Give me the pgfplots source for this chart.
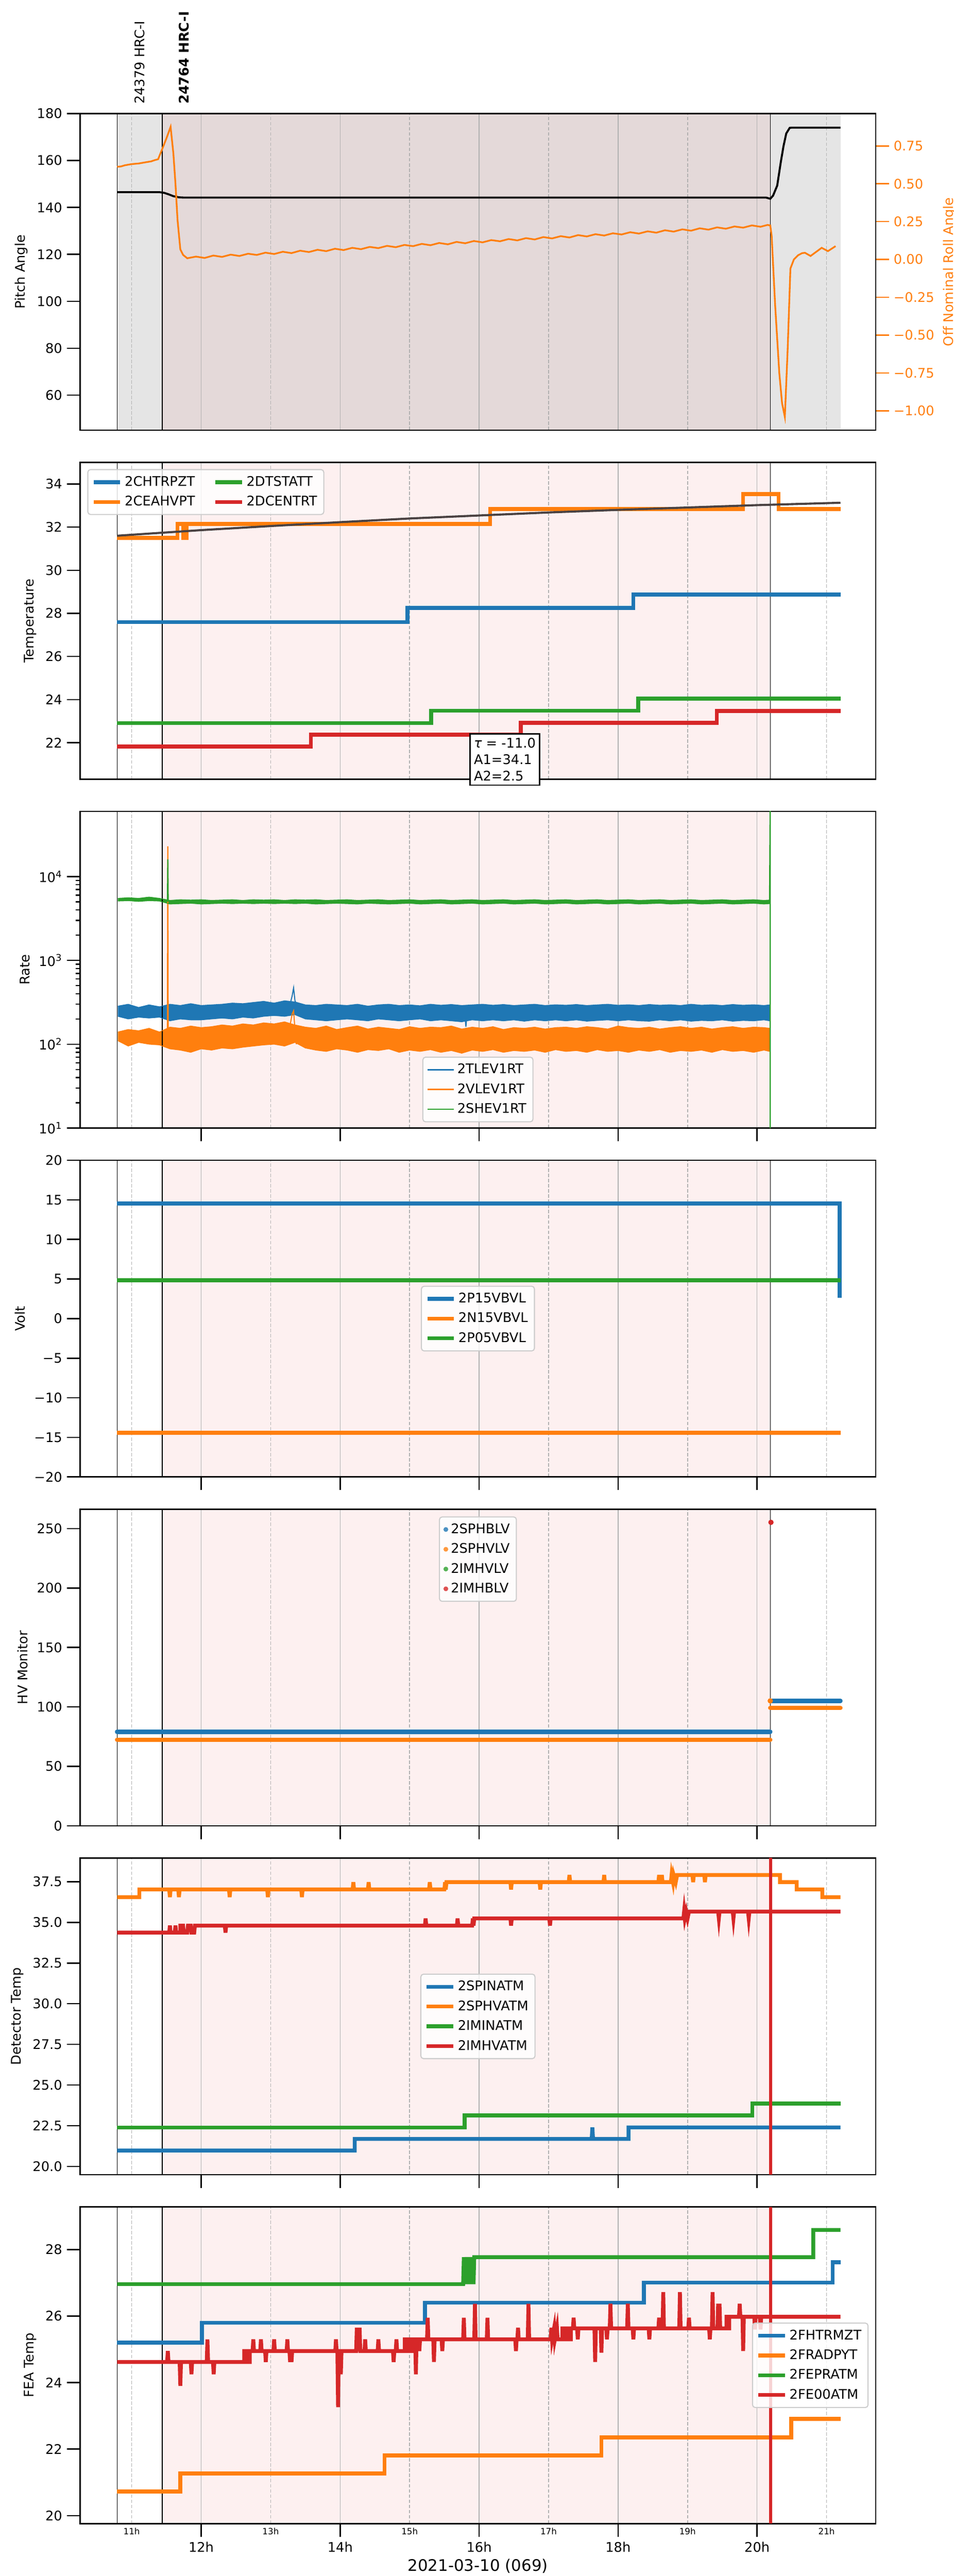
\documentclass[border=0pt]{standalone}
\usepackage{fontspec}
\setmainfont{DejaVu Sans}
\usepackage{pgfplots}
\pgfplotsset{compat=1.18}
\usepackage{pgfplotstable}
\usepgfplotslibrary{fillbetween}
\usetikzlibrary{calc}

\definecolor{mplblue}{HTML}{1F77B4}
\definecolor{mplorange}{HTML}{FF7F0E}
\definecolor{mplgreen}{HTML}{2CA02C}
\definecolor{mplred}{HTML}{D62728}
\definecolor{shadegrey}{HTML}{E5E5E5}
\definecolor{shadeobs}{HTML}{E4D9D9}
\definecolor{shadepink}{HTML}{FDF0F0}
\definecolor{gridgrey}{HTML}{B0B0B0}
\definecolor{legedge}{HTML}{CCCCCC}
\definecolor{fitgrey}{HTML}{4A4242}

\tikzset{stepln/.style={line width=2.9pt}}

\pgfplotsset{
  panel/.style={
    scale only axis, width=600.5pt, height=239pt, anchor=north west,
    xmin=10.258, xmax=21.708,
    xtick={12,14,16,18,20}, xticklabels={},
    extra x ticks={11,13,15,17,19,21}, extra x tick labels={},
    extra x tick style={major tick length=0pt, grid=major,
      major grid style={line width=0.6pt, draw=gridgrey, dash pattern=on 2.6pt off 1.3pt}},
    xmajorgrids=true,
    major grid style={line width=0.6pt, draw=gridgrey},
    tick align=outside, tick pos=left,
    major tick length=10pt, minor tick length=3.5pt,
    tick style={black, line width=1pt},
    axis line style={line width=1pt},
    ticklabel style={font=\fontsize{10}{12}\selectfont},
    label style={font=\fontsize{10}{12}\selectfont},
    set layers,
    legend cell align=left,
    legend style={draw=legedge, rounded corners=2pt, fill=white, fill opacity=0.8,
      text opacity=1, font=\fontsize{10}{12}\selectfont, line width=0.8pt,
      row sep=2pt, inner ysep=3pt},
    legend image code/.code={\draw (0pt,0pt) -- (20pt,0pt);},
  },
  bgfill/.style={draw=none, fill=#1, on layer=axis background, forget plot, mark=none},
  obsline/.style={black, line width=0.6pt, forget plot, mark=none},
}

\pgfplotstableread{
x bh bl oh ol gh gl
10.80 285 215 140 110 5500 5100
10.95 300 200 150 95 5600 5150
11.10 275 210 145 105 5500 5050
11.25 295 205 155 100 5700 5150
11.40 280 210 140 98 5500 5100
11.55 300 190 160 88 5200 4700
11.70 290 200 155 85 5300 4750
11.85 305 195 165 80 5250 4800
12.00 290 195 158 88 5300 4700
12.15 295 200 162 85 5200 4750
12.30 300 205 170 90 5250 4800
12.45 310 200 165 88 5300 4750
12.60 305 210 175 92 5200 4800
12.75 315 205 170 95 5300 4750
12.90 325 215 180 98 5250 4800
13.05 310 220 175 100 5300 4750
13.20 330 215 185 95 5200 4800
13.35 320 225 170 105 5300 4750
13.50 295 200 160 90 5250 4800
13.65 290 195 155 85 5300 4700
13.80 300 190 165 82 5200 4750
13.95 295 195 150 88 5250 4800
14.10 290 200 158 85 5300 4750
14.25 300 195 165 80 5200 4700
14.40 285 190 152 86 5250 4800
14.55 295 200 160 84 5300 4750
14.70 300 195 155 88 5200 4700
14.85 290 190 150 80 5250 4750
15.00 295 195 162 85 5300 4800
15.15 288 200 155 82 5200 4700
15.30 300 190 160 86 5250 4750
15.45 292 195 158 80 5300 4800
15.60 298 190 165 84 5200 4700
15.75 290 185 152 78 5250 4750
15.90 295 195 160 85 5300 4800
16.05 300 190 155 82 5200 4700
16.20 292 195 162 86 5250 4750
16.35 298 190 150 80 5300 4800
16.50 290 195 158 84 5200 4700
16.65 295 188 155 82 5250 4750
16.80 300 195 160 85 5300 4800
16.95 290 190 152 80 5200 4700
17.10 296 195 158 86 5250 4750
17.25 292 190 160 82 5300 4800
17.40 298 195 155 84 5200 4700
17.55 290 188 162 80 5250 4750
17.70 295 192 158 86 5300 4800
17.85 300 195 152 82 5200 4700
18.00 292 190 165 84 5250 4750
18.15 296 195 158 80 5300 4800
18.30 290 190 155 85 5200 4700
18.45 298 188 160 82 5250 4750
18.60 292 195 152 86 5300 4800
18.75 296 190 158 80 5200 4700
18.90 290 195 162 84 5250 4750
19.05 300 188 155 82 5300 4800
19.20 292 192 160 85 5200 4700
19.35 296 190 152 80 5250 4750
19.50 290 195 158 86 5300 4800
19.65 298 188 162 82 5200 4700
19.80 292 192 155 84 5250 4750
19.95 296 190 160 80 5300 4800
20.10 290 195 158 85 5200 4700
20.18 295 190 155 82 5250 4750
}\ratetab

\begin{document}
\begin{tikzpicture}

% ---------------- Panel 1: Pitch / Roll
\begin{axis}[panel, at={(60.48pt,1858.3pt)}, xtick style={draw=none},
  ymin=45.1, ymax=180, ytick={60,80,100,120,140,160,180},
  yticklabels={60,80,100,120,140,160,180}, ylabel={Pitch Angle}]
\addplot[bgfill=shadegrey] coordinates {(10.79,45.1)(11.44,45.1)(11.44,180)(10.79,180)};
\addplot[bgfill=shadeobs] coordinates {(11.44,45.1)(20.19,45.1)(20.19,180)(11.44,180)};
\addplot[bgfill=shadegrey] coordinates {(20.19,45.1)(21.2,45.1)(21.2,180)(20.19,180)};
\addplot[obsline] coordinates {(10.79,45.1)(10.79,180)};
\addplot[obsline] coordinates {(11.44,45.1)(11.44,180)};
\addplot[obsline] coordinates {(20.19,45.1)(20.19,180)};
\addplot[black, line width=1.5pt, mark=none] coordinates {
(10.79,146.5)(11.40,146.5)(11.47,146.2)(11.53,145.6)(11.60,144.8)(11.68,144.3)(11.75,144.2)
(20.13,144.2)(20.19,143.7)(20.23,145.0)(20.29,149.3)(20.34,159.0)(20.38,166.0)(20.42,171.5)
(20.47,173.9)(20.50,174.0)(21.2,174.0)};
\coordinate (lab1) at (axis cs:11.115,180);
\coordinate (lab2) at (axis cs:11.75,180);
\end{axis}
\begin{axis}[scale only axis, width=600.5pt, height=239pt, anchor=north west,
  at={(60.48pt,1858.3pt)}, xmin=10.258, xmax=21.708,
  axis x line=none, axis y line*=right,
  ymin=-1.128, ymax=0.964, ytick={-1,-0.75,-0.5,-0.25,0,0.25,0.5,0.75},
  yticklabels={−1.00,−0.75,−0.50,−0.25,0.00,0.25,0.50,0.75},
  tick align=outside, major tick length=10pt,
  tick style={mplorange, line width=1pt},
  axis line style={line width=1pt},
  yticklabel style={mplorange, font=\fontsize{10}{12}\selectfont},
  ylabel={Off Nominal Roll Angle},
  ylabel style={mplorange, font=\fontsize{10}{12}\selectfont}]
\addplot[mplorange, line width=1.3pt, mark=none] coordinates {
(10.79,0.612)(10.85,0.615)(10.90,0.622)(10.95,0.626)(11.00,0.630)(11.10,0.634)(11.20,0.642)
(11.28,0.648)(11.33,0.656)(11.38,0.662)(11.44,0.73)(11.50,0.80)(11.56,0.876)(11.60,0.70)
(11.63,0.50)(11.66,0.26)(11.70,0.067)(11.74,0.030)(11.80,0.008)
(11.925,0.019)(12.050,0.010)(12.175,0.026)(12.300,0.017)(12.425,0.032)(12.550,0.023)
(12.675,0.038)(12.800,0.030)(12.925,0.045)(13.050,0.036)(13.175,0.051)(13.300,0.042)
(13.425,0.058)(13.550,0.049)(13.675,0.064)(13.800,0.055)(13.925,0.071)(14.050,0.062)
(14.175,0.077)(14.300,0.068)(14.425,0.083)(14.550,0.075)(14.675,0.090)(14.800,0.081)
(14.925,0.096)(15.050,0.088)(15.175,0.103)(15.300,0.094)(15.425,0.109)(15.550,0.100)
(15.675,0.116)(15.800,0.107)(15.925,0.122)(16.050,0.113)(16.175,0.128)(16.300,0.120)
(16.425,0.135)(16.550,0.126)(16.675,0.141)(16.800,0.132)(16.925,0.148)(17.050,0.139)
(17.175,0.154)(17.300,0.145)(17.425,0.161)(17.550,0.152)(17.675,0.167)(17.800,0.158)
(17.925,0.173)(18.050,0.165)(18.175,0.180)(18.300,0.171)(18.425,0.186)(18.550,0.177)
(18.675,0.193)(18.800,0.184)(18.925,0.199)(19.050,0.190)(19.175,0.206)(19.300,0.197)
(19.425,0.212)(19.550,0.203)(19.675,0.218)(19.800,0.210)(19.925,0.225)(20.050,0.216)
(20.150,0.228)(20.19,0.225)(20.21,0.157)(20.26,-0.30)(20.32,-0.75)(20.36,-0.95)(20.40,-1.04)
(20.44,-0.60)(20.48,-0.06)(20.53,0.00)(20.59,0.028)(20.65,0.042)(20.69,0.044)(20.77,0.023)
(20.85,0.050)(20.93,0.077)(21.02,0.055)(21.13,0.088)};
\end{axis}

% ---------------- Panel 2: Temperature
\begin{axis}[panel, at={(60.48pt,1595.0pt)}, xtick style={draw=none},
  ymin=20.31, ymax=35.0, ytick={22,24,26,28,30,32,34},
  yticklabels={22,24,26,28,30,32,34}, ylabel={Temperature},
  legend columns=2, transpose legend,
  legend style={at={(0.009,0.979)}, anchor=north west,
    /tikz/every even column/.append style={column sep=12pt}}]
\addplot[bgfill=shadepink] coordinates {(11.44,20.31)(20.19,20.31)(20.19,35)(11.44,35)};
\addplot[obsline] coordinates {(10.79,20.31)(10.79,35)};
\addplot[obsline] coordinates {(11.44,20.31)(11.44,35)};
\addplot[obsline] coordinates {(20.19,20.31)(20.19,35)};
\addplot[stepln, mplblue, mark=none] coordinates {(10.79,27.6)(14.97,27.6)(14.97,28.25)(18.22,28.25)(18.22,28.87)(21.2,28.87)};
\addlegendentry{2CHTRPZT}
\addplot[stepln, mplorange, mark=none] coordinates {(10.79,31.5)(11.66,31.5)(11.66,32.15)(11.74,32.15)(11.74,31.5)(11.79,31.5)(11.79,32.15)(16.16,32.15)(16.16,32.84)(19.8,32.84)(19.8,33.53)(20.31,33.53)(20.31,32.84)(21.2,32.84)};
\addlegendentry{2CEAHVPT}
\addplot[stepln, mplgreen, mark=none] coordinates {(10.79,22.91)(15.31,22.91)(15.31,23.48)(18.29,23.48)(18.29,24.05)(21.2,24.05)};
\addlegendentry{2DTSTATT}
\addplot[stepln, mplred, mark=none] coordinates {(10.79,21.82)(13.58,21.82)(13.58,22.37)(16.6,22.37)(16.6,22.92)(19.42,22.92)(19.42,23.47)(21.2,23.47)};
\addlegendentry{2DCENTRT}
\addplot[fitgrey, line width=1.6pt, mark=none, forget plot] coordinates {(10.79,31.60)(12,31.86)(13,32.05)(14,32.23)(15,32.40)(16,32.54)(17,32.68)(18,32.80)(19,32.91)(20,33.02)(21.2,33.13)};
\coordinate (ann) at (axis cs:16.37,21.22);
\end{axis}

% ---------------- Panel 3: Rate
\begin{axis}[panel, at={(60.48pt,1331.7pt)}, ymode=log,
  ymin=10, ymax=60000, ytick={10,100,1000,10000},
  yticklabels={10\textsuperscript{1},10\textsuperscript{2},10\textsuperscript{3},10\textsuperscript{4}},
  ylabel={Rate},
  legend style={at={(0.5,0.018)}, anchor=south}]
\addplot[bgfill=shadepink] coordinates {(11.44,10)(20.19,10)(20.19,60000)(11.44,60000)};
\addplot[obsline] coordinates {(10.79,10)(10.79,60000)};
\addplot[obsline] coordinates {(11.44,10)(11.44,60000)};
\addplot[obsline] coordinates {(20.19,10)(20.19,60000)};
\addplot[name path=bh, mplblue, line width=0.5pt, forget plot, mark=none] table[x=x,y=bh]{\ratetab};
\addplot[name path=bl, mplblue, line width=0.5pt, forget plot, mark=none] table[x=x,y=bl]{\ratetab};
\addplot[mplblue, forget plot] fill between[of=bh and bl];
\addplot[mplblue, line width=0.8pt, forget plot, mark=none] coordinates {(13.28,300)(13.31,380)(13.33,470)(13.35,330)(13.38,290)};
\addplot[mplblue, line width=0.8pt, forget plot, mark=none] coordinates {(15.80,200)(15.81,162)(15.82,200)};
\addplot[name path=oh, mplorange, line width=0.5pt, forget plot, mark=none] table[x=x,y=oh]{\ratetab};
\addplot[name path=ol, mplorange, line width=0.5pt, forget plot, mark=none] table[x=x,y=ol]{\ratetab};
\addplot[mplorange, forget plot] fill between[of=oh and ol];
\addplot[mplorange, line width=0.8pt, forget plot, mark=none] coordinates {(13.28,170)(13.31,230)(13.33,250)(13.35,150)(13.37,100)};
\addplot[mplorange, line width=0.9pt, forget plot, mark=none] coordinates {(11.515,130)(11.52,23000)(11.525,130)};
\addplot[name path=gh, mplgreen, line width=0.5pt, forget plot, mark=none] table[x=x,y=gh]{\ratetab};
\addplot[name path=gl, mplgreen, line width=0.5pt, forget plot, mark=none] table[x=x,y=gl]{\ratetab};
\addplot[mplgreen, forget plot] fill between[of=gh and gl];
\addplot[mplgreen, line width=0.9pt, forget plot, mark=none] coordinates {(11.515,5000)(11.52,16000)(11.525,5000)};
\addplot[mplgreen, line width=0.9pt, forget plot, mark=none] coordinates {(20.18,5000)(20.19,100000)(20.19,1)};
\addlegendimage{mplblue, line width=1pt}\addlegendentry{2TLEV1RT}
\addlegendimage{mplorange, line width=1pt}\addlegendentry{2VLEV1RT}
\addlegendimage{mplgreen, line width=1pt}\addlegendentry{2SHEV1RT}
\end{axis}

% ---------------- Panel 4: Volt
\begin{axis}[panel, at={(60.48pt,1068.4pt)},
  ymin=-20, ymax=20, ytick={-20,-15,-10,-5,0,5,10,15,20},
  yticklabels={−20,−15,−10,−5,0,5,10,15,20}, ylabel={Volt},
  legend style={at={(0.5,0.5)}, anchor=center}]
\addplot[bgfill=shadepink] coordinates {(11.44,-20)(20.19,-20)(20.19,20)(11.44,20)};
\addplot[obsline] coordinates {(10.79,-20)(10.79,20)};
\addplot[obsline] coordinates {(11.44,-20)(11.44,20)};
\addplot[obsline] coordinates {(20.19,-20)(20.19,20)};
\addplot[stepln, mplblue, mark=none] coordinates {(10.79,14.55)(21.19,14.55)(21.19,2.6)};
\addlegendentry{2P15VBVL}
\addplot[stepln, mplorange, mark=none] coordinates {(10.79,-14.41)(21.2,-14.41)};
\addlegendentry{2N15VBVL}
\addplot[stepln, mplgreen, mark=none] coordinates {(10.79,4.83)(21.2,4.83)};
\addlegendentry{2P05VBVL}
\end{axis}

% ---------------- Panel 5: HV Monitor
\begin{axis}[panel, at={(60.48pt,805.1pt)},
  ymin=0, ymax=266.3, ytick={0,50,100,150,200,250},
  yticklabels={0,50,100,150,200,250}, ylabel={HV Monitor},
  legend style={at={(0.5,0.977)}, anchor=north},
  legend image code/.code={\path[draw=none, fill] (10pt,0pt) circle (1.8pt);}]
\addplot[bgfill=shadepink] coordinates {(11.44,0)(20.19,0)(20.19,266.3)(11.44,266.3)};
\addplot[obsline] coordinates {(10.79,0)(10.79,266.3)};
\addplot[obsline] coordinates {(11.44,0)(11.44,266.3)};
\addplot[obsline] coordinates {(20.19,0)(20.19,266.3)};
\addplot[mplblue, line width=3.3pt, line cap=round, mark=none] coordinates {(10.79,79.1)(20.19,79.1)};
\addlegendentry{2SPHBLV}
\addplot[mplblue, line width=3.3pt, line cap=round, mark=none, forget plot] coordinates {(20.19,105.1)(21.2,105.1)};
\addplot[mplorange, line width=3.3pt, line cap=round, mark=none] coordinates {(10.79,72.4)(20.19,72.4)};
\addlegendentry{2SPHVLV}
\addplot[mplorange, line width=3.3pt, line cap=round, mark=none, forget plot] coordinates {(20.19,99.2)(21.2,99.2)};
\addplot[mplorange, only marks, mark=*, mark size=1.8pt, forget plot] coordinates {(20.19,105.1)};
\addlegendimage{mplgreen}\addlegendentry{2IMHVLV}
\addplot[mplred, only marks, mark=*, mark size=1.8pt] coordinates {(20.2,255.2)};
\addlegendentry{2IMHBLV}
\end{axis}

% ---------------- Panel 6: Detector Temp
\begin{axis}[panel, at={(60.48pt,541.8pt)},
  ymin=19.49, ymax=38.95, ytick={20,22.5,25,27.5,30,32.5,35,37.5},
  yticklabels={20.0,22.5,25.0,27.5,30.0,32.5,35.0,37.5}, ylabel={Detector Temp},
  legend style={at={(0.5,0.5)}, anchor=center}]
\addplot[bgfill=shadepink] coordinates {(11.44,19.49)(20.19,19.49)(20.19,38.95)(11.44,38.95)};
\addplot[obsline] coordinates {(10.79,19.49)(10.79,38.95)};
\addplot[obsline] coordinates {(11.44,19.49)(11.44,38.95)};
\addplot[obsline] coordinates {(20.19,19.49)(20.19,38.95)};
\addplot[stepln, mplblue, mark=none] coordinates {(10.79,20.98)(14.21,20.98)(14.21,21.69)(17.62,21.69)(17.63,22.40)(17.64,21.69)(18.15,21.69)(18.15,22.40)(21.2,22.40)};
\addlegendentry{2SPINATM}
\addplot[stepln, mplorange, mark=none] coordinates {
(10.79,36.55)(11.11,36.55)(11.11,37.02)
(11.54,37.02)(11.55,36.55)(11.56,37.02)(11.67,37.02)(11.68,36.55)(11.69,37.02)
(12.40,37.02)(12.41,36.55)(12.42,37.02)(12.95,37.02)(12.96,36.55)(12.97,37.02)
(13.44,37.02)(13.45,36.55)(13.46,37.02)(14.18,37.02)(14.19,37.47)(14.20,37.02)
(14.40,37.02)(14.41,37.47)(14.42,37.02)(15.28,37.02)(15.29,37.47)(15.30,37.02)
(15.50,37.02)(15.51,37.47)(15.52,37.02)(15.53,37.47)
(16.45,37.47)(16.46,37.02)(16.47,37.47)(16.87,37.47)(16.88,37.02)(16.89,37.47)
(17.29,37.47)(17.30,37.91)(17.31,37.47)(17.79,37.47)(17.80,37.91)(17.81,37.47)
(18.58,37.47)(18.59,37.91)(18.60,37.47)(18.62,37.47)(18.63,37.91)(18.64,37.47)
(18.76,37.47)(18.77,37.91)(18.79,37.47)(18.80,37.91)(18.83,37.47)(18.85,37.91)
(19.07,37.91)(19.08,37.47)(19.09,37.91)(19.24,37.91)(19.25,37.47)(19.26,37.91)
(20.33,37.91)(20.33,37.47)(20.57,37.47)(20.57,37.02)(20.94,37.02)(20.94,36.55)(21.2,36.55)};
\addlegendentry{2SPHVATM}
\addplot[stepln, mplgreen, mark=none] coordinates {(10.79,22.40)(15.79,22.40)(15.79,23.13)(19.93,23.13)(19.93,23.87)(21.2,23.87)};
\addlegendentry{2IMINATM}
\addplot[stepln, mplred, mark=none] coordinates {
(10.79,34.37)(11.54,34.37)(11.55,34.80)(11.56,34.37)(11.62,34.37)(11.63,34.80)(11.64,34.37)
(11.70,34.37)(11.70,34.80)(11.74,34.80)(11.75,34.37)(11.80,34.37)(11.81,34.80)(11.85,34.80)
(11.86,34.37)(11.90,34.37)(11.91,34.80)
(12.34,34.80)(12.35,34.37)(12.36,34.80)(15.22,34.80)(15.23,35.24)(15.24,34.80)
(15.68,34.80)(15.69,35.24)(15.70,34.80)(15.90,34.80)(15.91,35.24)(15.92,34.80)(15.93,35.24)
(16.45,35.24)(16.46,34.80)(16.47,35.24)(17.01,35.24)(17.02,34.80)(17.03,35.24)
(18.94,35.24)(18.95,35.66)(18.96,35.24)(18.98,35.66)(19.00,35.24)(19.02,35.66)
(19.44,35.66)(19.45,35.24)(19.46,35.66)(19.65,35.66)(19.66,35.24)(19.67,35.66)
(19.87,35.66)(19.88,35.24)(19.89,35.66)(21.2,35.66)};
\addlegendentry{2IMHVATM}
\addplot[mplred, line width=2.2pt, forget plot, mark=none] coordinates {(20.195,19.49)(20.195,38.95)};
\end{axis}

% ---------------- Panel 7: FEA Temp
\begin{axis}[panel, at={(60.48pt,278.5pt)},
  ymin=19.76, ymax=29.28, ytick={20,22,24,26,28},
  yticklabels={20,22,24,26,28}, ylabel={FEA Temp},
  legend style={at={(0.991,0.5)}, anchor=east}]
\addplot[bgfill=shadepink] coordinates {(11.44,19.76)(20.19,19.76)(20.19,29.28)(11.44,29.28)};
\addplot[obsline] coordinates {(10.79,19.76)(10.79,29.28)};
\addplot[obsline] coordinates {(11.44,19.76)(11.44,29.28)};
\addplot[obsline] coordinates {(20.19,19.76)(20.19,29.28)};
\addplot[stepln, mplblue, mark=none] coordinates {(10.79,25.2)(12.01,25.2)(12.01,25.8)(15.22,25.8)(15.22,26.4)(18.37,26.4)(18.37,27.01)(21.09,27.01)(21.09,27.62)(21.2,27.62)};
\addlegendentry{2FHTRMZT}
\addplot[stepln, mplorange, mark=none] coordinates {(10.79,20.73)(11.70,20.73)(11.70,21.27)(14.64,21.27)(14.64,21.81)(17.76,21.81)(17.76,22.35)(20.49,22.35)(20.49,22.91)(21.2,22.91)};
\addlegendentry{2FRADPYT}
\addplot[stepln, mplgreen, mark=none] coordinates {(10.79,26.96)(15.77,26.96)(15.78,27.77)(15.80,26.96)(15.82,27.77)(15.84,26.96)(15.86,27.77)(15.88,26.96)(15.90,27.77)(15.92,26.96)(15.93,27.77)(20.81,27.77)(20.81,28.59)(21.2,28.59)};
\addlegendentry{2FEPRATM}
\addplot[stepln, mplred, mark=none] coordinates {
(10.79,24.62)(11.51,24.62)(11.52,24.95)(11.53,24.62)(11.69,24.62)(11.70,23.90)(11.71,24.62)
(11.85,24.62)(11.86,24.25)(11.87,24.62)(12.08,24.62)(12.09,25.30)(12.10,24.62)
(12.17,24.62)(12.18,24.25)(12.19,24.62)
(12.62,24.62)(12.62,24.95)(12.64,24.95)(12.64,24.62)(12.66,24.62)(12.66,24.95)(12.68,24.95)(12.68,24.62)(12.70,24.62)(12.70,24.95)
(12.74,24.95)(12.75,25.30)(12.76,24.95)(12.85,24.95)(12.86,25.30)(12.87,24.95)
(12.92,24.95)(12.93,24.62)(12.94,24.95)(13.04,24.95)(13.05,25.30)(13.06,24.95)
(13.23,24.95)(13.24,25.30)(13.25,24.95)(13.27,24.95)(13.28,24.62)(13.29,24.95)(13.30,24.62)(13.31,24.95)
(13.93,24.95)(13.94,25.30)(13.95,24.95)(13.96,24.95)(13.97,23.26)(13.98,24.95)
(14.00,24.95)(14.01,24.25)(14.02,24.95)
(14.23,24.95)(14.24,25.65)(14.25,24.95)(14.26,25.65)(14.27,24.95)(14.28,25.65)(14.29,24.95)
(14.35,24.95)(14.36,25.30)(14.37,24.95)(14.54,24.95)(14.55,25.30)(14.56,24.95)
(14.76,24.95)(14.77,24.62)(14.78,24.95)(14.80,24.95)(14.81,25.30)(14.82,24.95)
(14.93,24.95)(14.93,25.30)(14.96,25.30)(14.96,24.95)(14.99,24.95)(14.99,25.30)(15.02,25.30)(15.02,24.95)(15.05,24.95)(15.05,25.30)
(15.08,25.30)(15.09,24.25)(15.10,25.30)(15.13,25.30)(15.14,24.95)(15.15,25.30)
(15.25,25.30)(15.26,25.95)(15.27,25.30)(15.34,25.30)(15.35,24.62)(15.36,25.30)
(15.46,25.30)(15.47,24.95)(15.48,25.30)(15.77,25.30)(15.78,25.95)(15.79,25.30)
(15.93,25.30)(15.94,26.37)(15.95,25.30)(16.11,25.30)(16.12,25.95)(16.13,25.30)
(16.52,25.30)(16.53,24.95)(16.54,25.30)(16.55,25.30)(16.56,25.65)(16.57,25.30)
(16.70,25.30)(16.71,26.37)(16.72,25.30)
(17.03,25.30)(17.04,25.65)(17.05,25.30)(17.08,25.65)(17.09,25.30)(17.12,25.65)(17.13,25.30)
(17.20,25.30)(17.20,25.63)(17.23,25.63)(17.23,25.30)(17.26,25.30)(17.26,25.63)(17.29,25.63)(17.29,25.30)(17.32,25.30)(17.32,25.63)
(17.35,25.63)(17.36,25.95)(17.37,25.63)(17.41,25.63)(17.42,25.30)(17.43,25.63)
(17.66,25.63)(17.67,24.62)(17.68,25.63)(17.75,25.63)(17.76,24.90)(17.77,25.63)
(17.83,25.63)(17.84,25.30)(17.85,25.63)(17.88,25.63)(17.89,26.37)(17.90,25.63)
(18.13,25.63)(18.14,26.37)(18.15,25.63)(18.21,25.63)(18.22,25.30)(18.23,25.63)
(18.44,25.63)(18.45,25.30)(18.46,25.63)(18.58,25.63)(18.59,25.95)(18.60,25.63)
(18.64,25.63)(18.65,26.72)(18.66,25.63)(18.88,25.63)(18.89,26.72)(18.90,25.63)
(19.01,25.63)(19.02,25.95)(19.03,25.63)(19.31,25.63)(19.32,25.30)(19.33,25.63)
(19.35,25.63)(19.36,26.72)(19.37,25.63)(19.43,25.63)(19.44,26.37)(19.45,25.63)(19.46,26.37)(19.47,25.63)
(19.56,25.63)(19.56,25.98)(19.58,25.98)(19.58,25.63)(19.60,25.63)(19.60,25.98)
(19.74,25.98)(19.75,26.37)(19.76,25.98)(19.79,25.98)(19.80,24.95)(19.81,25.98)
(19.96,25.98)(19.97,25.60)(19.98,25.98)(20.04,25.98)(20.05,25.60)(20.06,25.98)(21.2,25.98)};
\addlegendentry{2FE00ATM}
\addplot[mplred, line width=2.2pt, forget plot, mark=none] coordinates {(20.195,19.76)(20.195,29.28)};
\end{axis}

% ---------------- x tick labels and x label of the bottom panel (1 h = 52.4454 pt)
\foreach \h in {12,14,16,18,20}
  \node[font=\fontsize{10}{12}\selectfont, inner sep=0pt] at ({60.48pt+(\h-10.258)*52.4454pt},22.0pt) {\h h};
\foreach \h in {11,13,15,17,19,21}
  \node[font=\fontsize{6.5}{8}\selectfont, inner sep=0pt] at ({60.48pt+(\h-10.258)*52.4454pt},33.7pt) {\h h};
\node[font=\fontsize{12}{14}\selectfont, inner sep=0pt] at (360.7pt,7.4pt) {2021-03-10 (069)};

% ---------------- annotations
\node[rotate=90, anchor=west, inner sep=0pt, font=\fontsize{10}{12}\selectfont] at ($(lab1)+(0,7pt)$) {24379 HRC-I};
\node[rotate=90, anchor=west, inner sep=0pt, font=\fontsize{10}{12}\selectfont\bfseries] at ($(lab2)+(0,7pt)$) {24764 HRC-I};
\node[draw=black, line width=1pt, fill=white, align=left, inner sep=3pt, font=\fontsize{10}{12.5}\selectfont] at (ann) {{\itshape τ} = -11.0\\A1=34.1\\A2=2.5};

\pgfresetboundingbox
\useasboundingbox (0,0) rectangle (720pt,1944pt);
\end{tikzpicture}
\end{document}
